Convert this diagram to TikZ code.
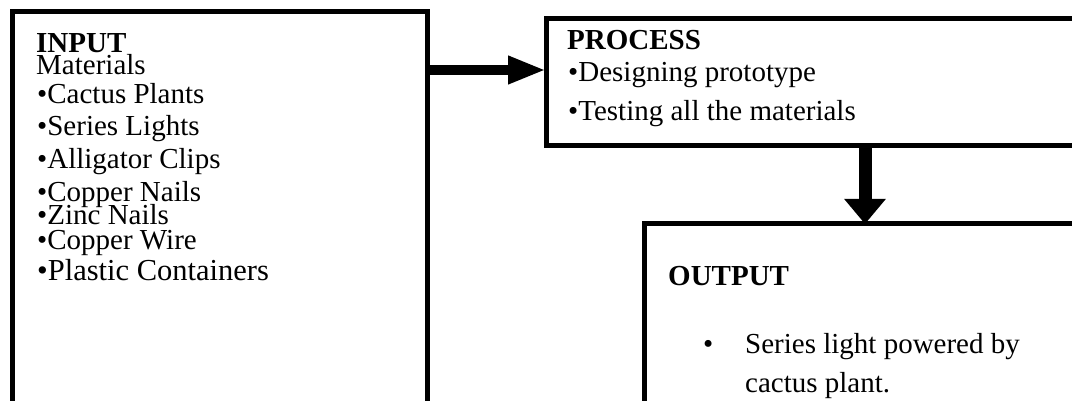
\documentclass[tikz,border=0pt]{standalone}
\usepackage{fontspec}
\setmainfont{Liberation Serif}
\usetikzlibrary{arrows.meta}
\begin{document}
\begin{tikzpicture}[x=1pt,y=-1pt,
  frame/.style={draw, line width=5pt, inner sep=0pt, outer sep=0pt, anchor=north west},
  txt/.style={anchor=base west, inner sep=0pt, font=\fontsize{29}{29}\selectfont},
  head/.style={txt, font=\fontsize{29}{29}\selectfont\bfseries},
  harrow/.style={line width=10pt, -{Triangle[length=38pt,width=26pt]}},
  varrow/.style={line width=13pt, -{Triangle[length=25pt,width=40pt]}}]
\useasboundingbox (0,0) rectangle (1072,401);
\clip (0,0) rectangle (1072,401);

% boxes (open towards the lower and right page edges)
\node[frame, minimum width=415pt, minimum height=420pt] (input) at (12,12) {};
\node[frame, minimum width=600pt, minimum height=127pt] (process) at (546,19) {};
\node[frame, minimum width=500pt, minimum height=250pt] (output) at (644,224) {};

% input texts
\node[head] (inhead) at (36,53) {INPUT};
\node[txt] (inmat) at (36,75) {Materials};
\node[txt] (in1) at (37,104) {•Cactus Plants};
\node[txt] (in2) at (37,136) {•Series Lights};
\node[txt] (in3) at (37,169) {•Alligator Clips};
\node[txt] (in4) at (37,201) {•Copper Nails};
\node[txt] (in5) at (37,225) {•Zinc Nails};
\node[txt] (in6) at (37,249) {•Copper Wire};
\node[txt, font=\fontsize{30.5}{30.5}\selectfont] (in7) at (37,280) {•Plastic Containers};

% process texts
\node[head] (prhead) at (567,50) {PROCESS};
\node[txt] (pr1) at (568,82) {•Designing prototype};
\node[txt] (pr2) at (568,121) {•Testing all the materials};

% output texts
\node[head] (outhead) at (668,285) {OUTPUT};
\node[txt] (outbul) at (703,353) {•};
\node[txt] (out1) at (745,353) {Series light powered by};
\node[txt] (out2) at (745,392) {cactus plant.};

% connectors
\coordinate (hrow) at (0,70);
\coordinate (vcol) at (865,0);
\draw[harrow] (input.north east |- hrow) -- (process.west |- hrow);
\draw[varrow] (process.south -| vcol) -- (output.north -| vcol);
\end{tikzpicture}
\end{document}
